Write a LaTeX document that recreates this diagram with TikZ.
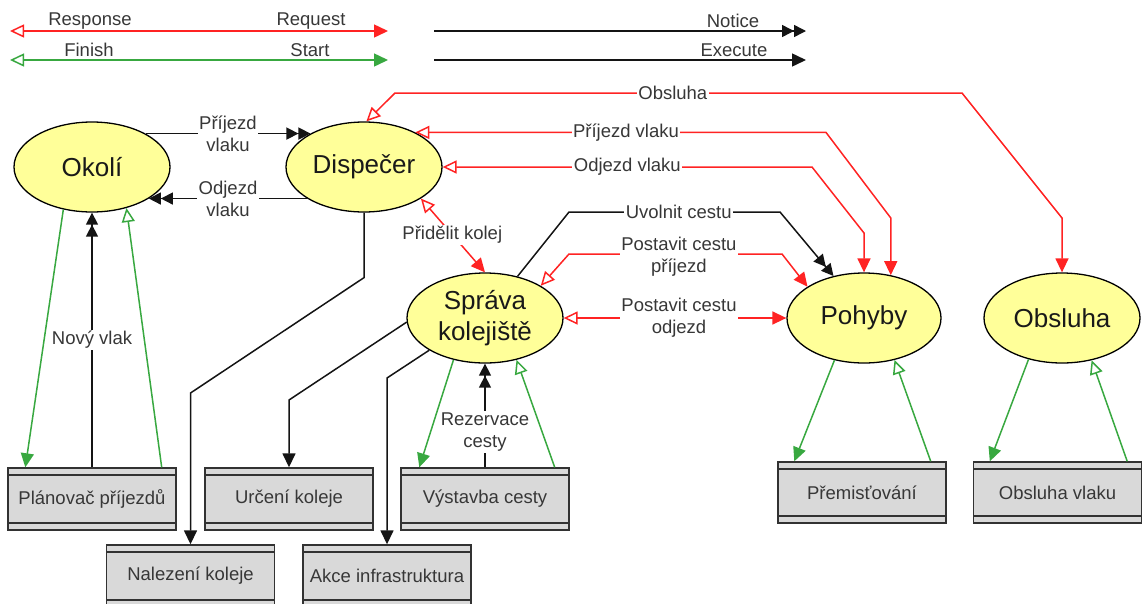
\documentclass[tikz,border=0pt]{standalone}
\usepackage{fontspec}
\setmainfont{Liberation Sans}
\usetikzlibrary{arrows.meta,shapes.geometric}

\definecolor{reqred}{RGB}{255,35,35}
\definecolor{okgreen}{RGB}{56,168,64}
\definecolor{procfill}{RGB}{255,255,153}
\definecolor{boxfill}{RGB}{217,217,217}
\definecolor{boxline}{RGB}{50,50,50}
\definecolor{labeltext}{RGB}{55,55,55}
\definecolor{wire}{RGB}{20,20,20}

\tikzset{
  ftip/.tip={Triangle[length=14pt,width=13pt]},
  otip/.tip={Triangle[open,length=14pt,width=13pt]},
  dtip/.tip={Triangle[length=12pt,width=12pt] Triangle[length=12pt,width=12pt]},
  proc/.style={ellipse, draw=black, line width=1.3pt, fill=procfill,
    minimum width=156pt, minimum height=90pt, inner sep=0pt, align=center,
    font=\fontsize{26}{31}\selectfont, text=black!90},
  subsys/.style={rectangle, draw=boxline, line width=1.4pt, fill=boxfill,
    minimum width=168pt, minimum height=62pt, inner sep=0pt,
    font=\fontsize{18.5}{22}\selectfont, text=labeltext,
    path picture={
      \draw[boxline, line width=1.4pt]
        ([yshift=-7pt]path picture bounding box.north west) --
        ([yshift=-7pt]path picture bounding box.north east);
      \draw[boxline, line width=1.4pt]
        ([yshift=7pt]path picture bounding box.south west) --
        ([yshift=7pt]path picture bounding box.south east);
    }},
  lbl/.style={fill=white, inner sep=1.5pt, align=center,
    font=\fontsize{18.5}{22}\selectfont, text=labeltext},
  legendlbl/.style={inner sep=0pt, font=\fontsize{18.5}{22}\selectfont, text=labeltext},
  request/.style={draw=reqred, line width=1.5pt, arrows={otip-ftip}},
  startflow/.style={draw=okgreen, line width=1.5pt, arrows={-ftip}},
  finishflow/.style={draw=okgreen, line width=1.5pt, arrows={-otip}},
  twoway/.style={draw=okgreen, line width=1.5pt, arrows={otip-ftip}},
  execute/.style={draw=wire, line width=1.5pt, arrows={-ftip}},
  notice/.style={draw=wire, line width=1.5pt, arrows={-dtip}},
}

\begin{document}
\begin{tikzpicture}[x=1pt,y=-1pt]
\useasboundingbox (0,0) rectangle (1143,603);
\clip (0,0) rectangle (1143,603);

% ---------- legend ----------
\coordinate (rqA) at (10,31);  \coordinate (rqB) at (388,31);
\coordinate (sfA) at (10,60);  \coordinate (sfB) at (388,60);
\coordinate (ntA) at (434,31); \coordinate (ntB) at (806,31);
\coordinate (exA) at (434,60); \coordinate (exB) at (806,60);
\draw[request] (rqA) -- (rqB);
\draw[twoway] (sfA) -- (sfB);
\draw[notice] (ntA) -- (ntB);
\draw[execute] (exA) -- (exB);
\node[legendlbl] (lgResp) at (90,21) {Response};
\node[legendlbl] (lgReq) at (311,21) {Request};
\node[legendlbl] (lgFin) at (89,50) {Finish};
\node[legendlbl] (lgSta) at (310,50) {Start};
\node[legendlbl] (lgNot) at (733,21) {Notice};
\node[legendlbl] (lgExe) at (734,50) {Execute};

% ---------- processes ----------
\node[proc] (okoli) at (92,167) {Okolí};
\node[proc] (disp) at (364,167) {Dispečer};
\node[proc] (sprava) at (485,318) {Správa\\kolejiště};
\node[proc, minimum width=154pt] (pohyby) at (864,318) {Pohyby};
\node[proc] (obsluha) at (1062,318) {Obsluha};

% ---------- subsystems ----------
\node[subsys] (plan) at (92,499) {Plánovač příjezdů};
\node[subsys] (urceni) at (289,499) {Určení koleje};
\node[subsys] (vystavba) at (485,499) {Výstavba cesty};
\node[subsys] (nalezeni) at (190.5,576) {Nalezení koleje};
\node[subsys] (akce) at (387,576) {Akce infrastruktura};
\node[subsys, minimum height=61pt] (premist) at (862,492.5) {Přemisťování};
\node[subsys, minimum height=61pt] (obsvlak) at (1057.5,492.5) {Obsluha vlaku};

% ---------- Okolí <-> Dispečer ----------
\draw[notice] (okoli.32) -- node[lbl] (lbPrijOk) {Příjezd\\vlaku} (disp.148);
\draw[notice] (disp.209) -- node[lbl] (lbOdjOk) {Odjezd\\vlaku} (okoli.331);

% ---------- Okolí <-> Plánovač ----------
\draw[startflow] (okoli.236) -- ([xshift=18pt]plan.north west);
\draw[notice] (plan.north) -- node[lbl] (lbNovy) {Nový vlak} (okoli.south);
\draw[finishflow] ([xshift=-15pt]plan.north east) -- (okoli.310);

% ---------- Dispečer requests ----------
\draw[request] (disp.87) -- (395,93)
  -- node[lbl, pos=0.49] (lbObs) {Obsluha} (962,93)
  -- (obsluha.north |- 0,218) -- (obsluha.north);
\draw[request] (disp.34)
  -- node[lbl, pos=0.513] (lbPrijP) {Příjezd vlaku} (disp.34 -| 826,0)
  -- (pohyby.58 |- 0,218) -- (pohyby.58);
\draw[request] (disp.east)
  -- node[lbl, pos=0.5] (lbOdjP) {Odjezd vlaku} (disp.east -| 812,0)
  -- (pohyby.north |- 0,233) -- (pohyby.north);
\draw[request] (disp.331) -- node[lbl, pos=0.49] (lbPrid) {Přidělit kolej} (sprava.north);
\draw[execute] (disp.south) -- ++(0,65) -- (nalezeni.north |- 0,393) -- (nalezeni.north);

% ---------- Správa kolejiště <-> Pohyby ----------
\draw[notice] (sprava.52) -- (569,212)
  -- node[lbl, pos=0.52] (lbUvol) {Uvolnit cestu} (780,212) -- (pohyby.126);
\draw[request] (sprava.30) -- (569,254)
  -- node[lbl, pos=0.516, yshift=-3pt] (lbPostP) {Postavit cestu\\příjezd} (782,254)
  -- (pohyby.151);
\draw[request] (sprava.east) -- node[lbl, pos=0.518] (lbPostO) {Postavit cestu\\odjezd} (pohyby.west);

% ---------- Správa kolejiště -> subsystems ----------
\draw[execute] (sprava.183) -- (urceni.north |- 0,400) -- (urceni.north);
\draw[execute] (sprava.210) -- (akce.north |- 0,378) -- (akce.north);
\draw[startflow] (sprava.233) -- ([xshift=19pt]vystavba.north west);
\draw[notice] (vystavba.north) -- node[lbl, pos=0.34] (lbRez) {Rezervace\\cesty} (sprava.south);
\draw[finishflow] ([xshift=-15pt]vystavba.north east) -- (sprava.307);

% ---------- Pohyby / Obsluha -> subsystems ----------
\draw[startflow] (pohyby.235) -- ([xshift=17pt]premist.north west);
\draw[finishflow] ([xshift=-16pt]premist.north east) -- (pohyby.306);
\draw[startflow] (obsluha.231) -- ([xshift=17pt]obsvlak.north west);
\draw[finishflow] ([xshift=-15pt]obsvlak.north east) -- (obsluha.305);
\end{tikzpicture}
\end{document}
